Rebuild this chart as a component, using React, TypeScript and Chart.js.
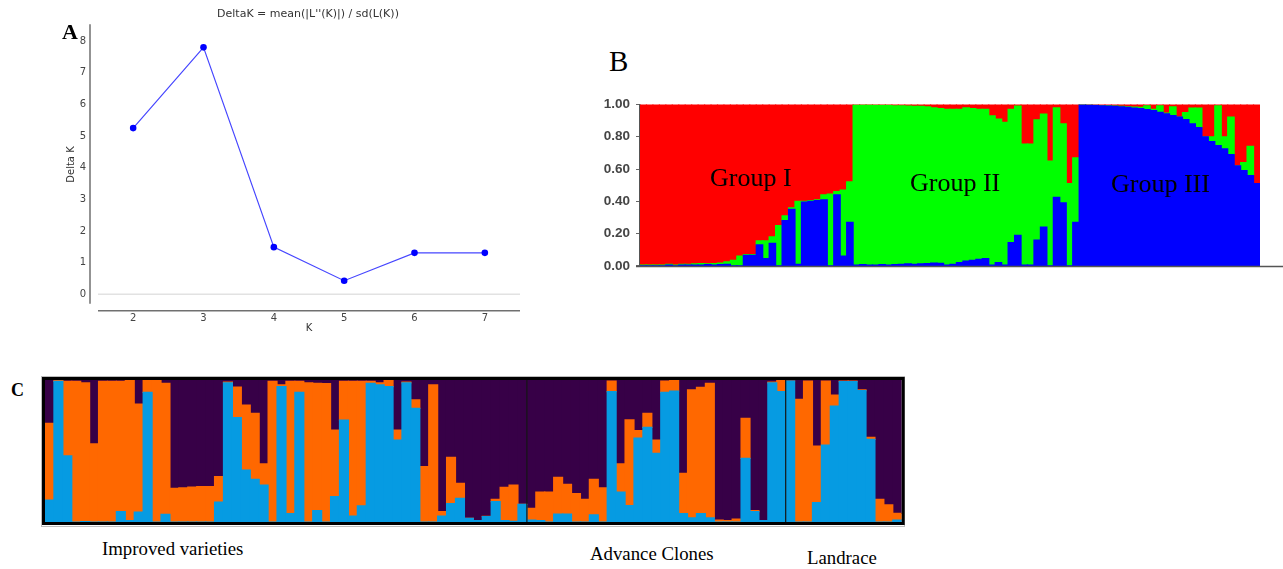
import React, { useEffect, useRef } from "react";
import { Chart, registerables } from "chart.js";

Chart.register(...registerables);

// ---------- Panel A data ----------
const kValues = [2, 3, 4, 5, 6, 7];
const deltaK = [5.25, 7.8, 1.49, 0.43, 1.31, 1.31];
const aYTicks = [0, 1, 2, 3, 4, 5, 6, 7, 8];
const aTitle = "DeltaK = mean(|L''(K)|) / sd(L(K))";

// ---------- Panel B data (96 individuals) ----------
const bGroups = ["Group I", "Group II", "Group III"];
const bYTicks = [0, 0.2, 0.4, 0.6, 0.8, 1.0];
const bBlue = [
  0, 0, 0, 0, .005, 0, .005, .005, .005, .005, .008, .005, .008, .01, 0, 0, .065, .065, .13, .045, .14, 0, .28, .35, .01, .395, .40, .405, .41, 0, .44, .06, .27,
  .005, .008, .005, .005, .008, .005, .008, .01, .012, .01, .012, .015, .018, .016, .005, .01, .02, .03, .035, .04, .045, .005, .02, .005, .145, .19, .005, .005, .16, .24, 0, .425, .39, 0, .27,
  .998, .996, .994, .992, .99, .988, .986, .982, .978, .974, .968, .962, .952, .942, .932, .922, .906, .88, .857, .80, .77, .745, .725, .69, .62, .59, .56, .51,
];
const bGreen = [
  .005, .005, .005, .005, .005, .005, .005, .005, .008, .01, .005, .01, .01, .015, .035, .06, .005, .005, .025, .11, .04, .25, .03, .01, .39, .005, .005, .005, .03, .445, .02, .41, .25,
  .992, .989, .992, .99, .987, .99, .984, .982, .978, .978, .976, .97, .962, .959, .965, .96, .95, .95, .94, .93, .925, .925, .89, .885, .825, .80, .75, .75, .745, .70, .65, .555, .49, .51, .40,
  0, 0, 0, 0, .002, .002, .002, .004, .006, .008, .024, .008, .04, .005, .054, 0, .044, .098, .12, 0, .03, .247, .075, .232, 0, .05, .181, 0,
];
const bRed = [
  .995, .995, .995, .995, .99, .995, .99, .99, .987, .985, .987, .985, .982, .975, .965, .94, .93, .93, .845, .845, .82, .75, .69, .64, .60, .60, .595, .59, .56, .555, .54, .53, .48,
  .003, .003, .003, .005, .005, .005, .008, .008, .01, .012, .012, .015, .02, .025, .03, .03, .03, .02, .025, .03, .03, .07, .09, .11, .03, .01, .245, .245, .095, .06, .35, .02, .12, .49, .33,
  .002, .004, .006, .008, .008, .01, .012, .014, .016, .018, .008, .03, .008, .053, .014, .078, .05, .022, .023, .20, .20, .008, .20, .078, .38, .36, .259, .49,
];

// ---------- Panel C data (96 individuals) ----------
const cGroups = ["Improved varieties", "Advance Clones", "Landrace"];
const cGroupSizes = [54, 29, 13];
const cBlue = [
  .155, .99, .465, 0, .003, 0, 0, 0, .073, .01, .07, .913, 0, .054, 0, 0, 0, 0, 0, .14, .98, .735, .366, .30, .26, 0, .953, .06, .913, 0,
  .08, 0, .178, .718, .042, .113, .977, .965, .953, .577, .98, .80, 0, 0, .042, .13, .167, .026, .01, .038, .143, .01, .005, .124,
  .014, .01, 0, .056, .056, 0, 0, .05, 0, .918, .21, .115, .59, .667, .484, .913, .922, .06, .03, .06, .03, 0, 0, 0, .448, .073, .01, .98, .918,
  .993, 0, 0, .136, .542, .817, .988, .988, .925, .582, 0, 0, .014,
];
const cOrange = [
  .54, .005, .525, .99, .977, .55, .99, .99, .917, .985, .76, .082, .995, .923, .237, .24, .245, .25, .25, .18, .005, .215, .458, .465, .15, .99, .012, .93, .077, .98,
  .897, .975, .47, .272, .948, .877, .013, .015, .042, .071, .005, .06, .39, .965, .031, .325, .105, 0, 0, .002, .017, .234, .255, 0,
  .082, .20, .21, .259, .209, .20, .16, .25, .24, .075, .20, .605, .053, .098, .093, .08, .078, .283, .90, .888, .947, .014, .01, .02, .282, .007, 0, .005, .082,
  0, .864, .993, .399, .451, .077, .005, .005, .005, .014, .16, .12, .047,
];
const cPurple = [
  .305, .005, .01, .01, .02, .45, .01, .01, .01, .005, .17, .005, .005, .023, .763, .76, .755, .75, .75, .68, .015, .05, .176, .235, .59, .01, .035, .01, .01, .02,
  .023, .025, .352, .01, .01, .01, .01, .02, .005, .352, .015, .14, .61, .035, .927, .545, .728, .974, .99, .96, .84, .756, .74, .876,
  .904, .79, .79, .685, .735, .80, .84, .70, .76, .007, .59, .28, .357, .235, .423, .007, 0, .657, .07, .052, .023, .986, .99, .98, .27, .92, .99, .015, 0,
  .007, .136, .007, .465, .007, .106, .007, .007, .07, .404, .84, .88, .939,
];

const serif = "'Liberation Serif', 'Times New Roman', serif";

function PanelA() {
  const ref = useRef<HTMLCanvasElement | null>(null);
  useEffect(() => {
    if (!ref.current) return;
    const tickFont = { family: "DejaVu Sans", size: 10 };
    const chart = new Chart(ref.current, {
      type: "line",
      data: {
        datasets: [
          {
            data: kValues.map((k, i) => ({ x: k, y: deltaK[i] })),
            borderColor: "#4646ff",
            borderWidth: 1.2,
            pointRadius: 3.3,
            pointBackgroundColor: "#0000ff",
            pointBorderColor: "#0000ff",
            pointBorderWidth: 0,
            tension: 0,
          },
        ],
      },
      options: {
        responsive: false,
        animation: false,
        events: [],
        layout: { padding: { left: 0, right: 10, top: 25.2, bottom: 0 } },
        plugins: { legend: { display: false }, tooltip: { enabled: false } },
        scales: {
          x: {
            type: "linear",
            min: 1.5,
            max: 7.5,
            afterBuildTicks: (s: any) => {
              s.ticks = kValues.map((v) => ({ value: v }));
            },
            afterFit: (s: any) => {
              s.height = 36.2;
            },
            grid: { display: false, drawTicks: false },
            border: { display: false },
            ticks: { font: tickFont, color: "#444", padding: 9, maxRotation: 0 },
            title: { display: true, text: "K", font: tickFont, color: "#333", padding: { top: 0, bottom: 6 } },
          },
          y: {
            type: "linear",
            min: -0.3,
            max: 8.5,
            afterBuildTicks: (s: any) => {
              s.ticks = aYTicks.map((v) => ({ value: v }));
            },
            afterFit: (s: any) => {
              s.width = 58;
            },
            grid: { display: false, drawTicks: false },
            border: { display: false },
            ticks: { font: tickFont, color: "#444", padding: 12 },
            title: { display: true, text: "Delta K", font: tickFont, color: "#333", padding: { top: 25.7, bottom: 0 } },
          },
        },
      },
      plugins: [
        {
          id: "aAxes",
          beforeDatasetsDraw(c: any) {
            const { ctx, chartArea: ca, scales } = c;
            const y0 = scales.y.getPixelForValue(0);
            ctx.save();
            ctx.strokeStyle = "#e2e2e2";
            ctx.lineWidth = 1.5;
            ctx.beginPath();
            ctx.moveTo(ca.left, y0);
            ctx.lineTo(ca.right, y0);
            ctx.stroke();
            ctx.restore();
          },
          afterDraw(c: any) {
            const { ctx, chartArea: ca } = c;
            ctx.save();
            ctx.strokeStyle = "#707070";
            ctx.lineWidth = 1.5;
            ctx.beginPath();
            ctx.moveTo(ca.left - 8, ca.top - 1);
            ctx.lineTo(ca.left - 8, ca.bottom);
            ctx.moveTo(ca.left, ca.bottom + 7);
            ctx.lineTo(ca.right, ca.bottom + 7);
            ctx.stroke();
            ctx.restore();
          },
        },
      ],
    } as any);
    return () => chart.destroy();
  }, []);
  return (
    <canvas
      ref={ref}
      width={490}
      height={340}
      style={{ position: "absolute", left: 40, top: 0, width: 490, height: 340 }}
    />
  );
}

function PanelB() {
  const ref = useRef<HTMLCanvasElement | null>(null);
  useEffect(() => {
    if (!ref.current) return;
    const labels = bBlue.map((_, i) => String(i + 1));
    const common = { borderWidth: 0, barPercentage: 1, categoryPercentage: 1, inflateAmount: 0.6 };
    const chart = new Chart(ref.current, {
      type: "bar",
      data: {
        labels,
        datasets: [
          { label: "blue", data: bBlue, backgroundColor: "#0000ff", ...common },
          { label: "green", data: bGreen, backgroundColor: "#00ff00", ...common },
          { label: "red", data: bRed, backgroundColor: "#ff0000", ...common },
        ],
      },
      options: {
        responsive: false,
        animation: false,
        events: [],
        layout: { padding: { left: 0, right: 23, top: 14.5, bottom: 9 } },
        plugins: { legend: { display: false }, tooltip: { enabled: false } },
        scales: {
          x: { stacked: true, display: false },
          y: {
            stacked: true,
            min: 0,
            max: 1,
            afterBuildTicks: (s: any) => {
              s.ticks = bYTicks.map((v) => ({ value: v }));
            },
            afterFit: (s: any) => {
              s.width = 50;
            },
            grid: { display: true, drawOnChartArea: false, drawTicks: true, tickLength: 4, color: "#666" },
            border: { display: true, color: "#555", width: 1.5 },
            ticks: {
              font: { family: "Liberation Sans", size: 13.5, weight: "bold" },
              color: "#454545",
              padding: 6,
              callback: (v: any) => Number(v).toFixed(2),
            },
          },
        },
      },
      plugins: [
        {
          id: "bAxis",
          afterDraw(c: any) {
            const { ctx, chartArea: ca, width } = c;
            ctx.save();
            ctx.strokeStyle = "#555";
            ctx.lineWidth = 1.5;
            ctx.beginPath();
            ctx.moveTo(ca.left - 4, ca.bottom + 0.5);
            ctx.lineTo(width, ca.bottom + 0.5);
            ctx.stroke();
            ctx.restore();
          },
        },
      ],
    } as any);
    return () => chart.destroy();
  }, []);
  return (
    <canvas
      ref={ref}
      width={693}
      height={190}
      style={{ position: "absolute", left: 590, top: 90, width: 693, height: 190 }}
    />
  );
}

function PanelC() {
  const ref = useRef<HTMLCanvasElement | null>(null);
  useEffect(() => {
    if (!ref.current) return;
    const labels = cBlue.map((_, i) => String(i + 1));
    const common = { borderWidth: 0, barPercentage: 1, categoryPercentage: 1, inflateAmount: 0.6 };
    const chart = new Chart(ref.current, {
      type: "bar",
      data: {
        labels,
        datasets: [
          { label: "c1", data: cBlue, backgroundColor: "#069be2", ...common },
          { label: "c2", data: cOrange, backgroundColor: "#ff6800", ...common },
          { label: "c3", data: cPurple, backgroundColor: "#370047", ...common },
        ],
      },
      options: {
        responsive: false,
        animation: false,
        events: [],
        layout: { padding: { left: 4, right: 3.3, top: 4, bottom: 5 } },
        plugins: { legend: { display: false }, tooltip: { enabled: false } },
        scales: {
          x: { stacked: true, display: false },
          y: { stacked: true, display: false, min: 0, max: 1 },
        },
      },
      plugins: [
        {
          id: "cFrame",
          afterDraw(c: any) {
            const { ctx, chartArea: ca, width, height, scales } = c;
            const xs = scales.x;
            const bw = xs.getPixelForValue(1) - xs.getPixelForValue(0);
            ctx.save();
            // group separators
            ctx.strokeStyle = "#151515";
            ctx.lineWidth = 1.2;
            let idx = 0;
            for (let g = 0; g < cGroupSizes.length - 1; g++) {
              idx += cGroupSizes[g];
              const x = xs.getPixelForValue(idx) - bw / 2;
              ctx.beginPath();
              ctx.moveTo(x, ca.top);
              ctx.lineTo(x, ca.bottom);
              ctx.stroke();
            }
            // outer light outline
            ctx.strokeStyle = "#bdbdbd";
            ctx.lineWidth = 1;
            ctx.strokeRect(0.5, 0.5, width - 1, height - 1);
            // black frame
            ctx.strokeStyle = "#000";
            ctx.lineWidth = 3;
            ctx.strokeRect(ca.left - 1.5, ca.top - 1.5, ca.right - ca.left + 3, ca.bottom - ca.top + 3);
            ctx.restore();
          },
        },
      ],
    } as any);
    return () => chart.destroy();
  }, []);
  return (
    <canvas
      ref={ref}
      width={864}
      height={151}
      style={{ position: "absolute", left: 41, top: 376, width: 864, height: 151 }}
    />
  );
}

const txt = (
  text: string,
  left: number,
  top: number,
  size: number,
  extra: React.CSSProperties = {}
) => (
  <div
    key={text + left}
    style={{
      position: "absolute",
      left,
      top,
      fontFamily: serif,
      fontSize: size,
      lineHeight: `${size}px`,
      whiteSpace: "nowrap",
      color: "#000",
      ...extra,
    }}
  >
    {text}
  </div>
);

export default function App() {
  return (
    <div
      style={{
        position: "absolute",
        left: 0,
        top: 0,
        width: 1283,
        height: 569,
        background: "#fff",
        overflow: "hidden",
      }}
    >
      <PanelA />
      <div
        style={{
          position: "absolute",
          left: 108,
          top: 6.5,
          width: 400,
          textAlign: "center",
          fontFamily: "DejaVu Sans",
          fontSize: 11,
          lineHeight: "14px",
          color: "#333",
        }}
      >
        {aTitle}
      </div>
      {txt("A", 62, 20.9, 22, { fontWeight: "bold" })}
      <PanelB />
      {txt("B", 609, 47.4, 29)}
      {txt(bGroups[0], 710, 164.5, 26)}
      {txt(bGroups[1], 910, 169.5, 26)}
      {txt(bGroups[2], 1111, 170.5, 26)}
      <PanelC />
      {txt("C", 11, 381, 18, { fontWeight: "bold" })}
      {txt(cGroups[0], 102, 540.3, 18.8)}
      {txt(cGroups[1], 590, 545.3, 18.8)}
      {txt(cGroups[2], 807, 549.3, 18.8)}
    </div>
  );
}
